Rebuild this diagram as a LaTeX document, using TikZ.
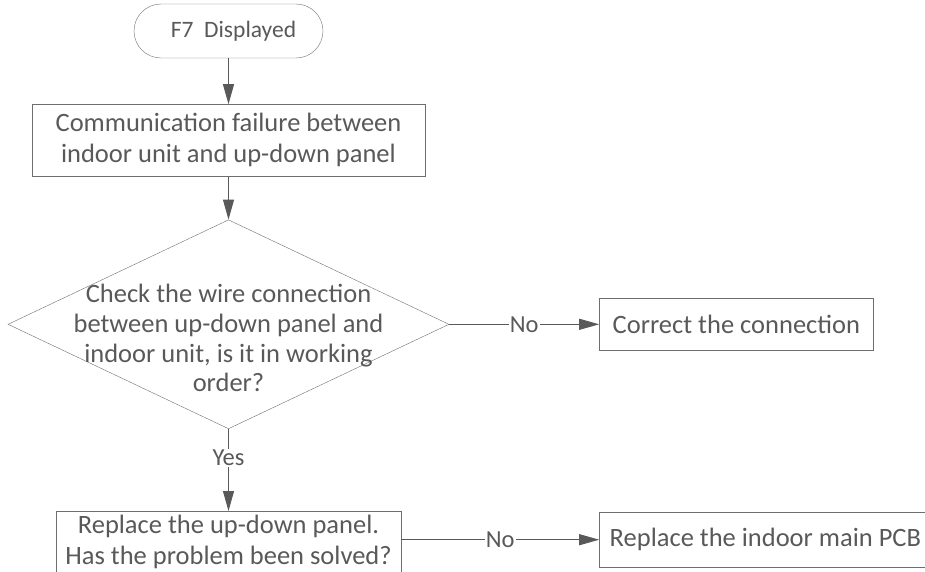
\documentclass[tikz,border=0pt]{standalone}
\usepackage{fontspec}
\setmainfont{Carlito}
\usepackage{tikz}
\usetikzlibrary{shapes.geometric, arrows.meta, positioning}
\definecolor{txtgray}{HTML}{595959}
\definecolor{edgegray}{HTML}{6E6E6E}

\begin{document}
\begin{tikzpicture}[x=1pt, y=1pt, font=\fontsize{26.5}{31}\selectfont, text=txtgray]
    % styles
    \tikzstyle{terminal} = [rectangle, draw=edgegray, rounded corners=27pt, minimum width=189pt, minimum height=54pt, font=\fontsize{23.5}{28}\selectfont]
    \tikzstyle{block} = [rectangle, draw=edgegray, align=center, inner sep=2pt]
    \tikzstyle{decision} = [diamond, draw=edgegray, inner sep=0pt, minimum width=441pt, minimum height=209pt]
    \tikzstyle{line} = [draw=txtgray, line width=1pt, -{Triangle[length=20pt, width=11pt]}]
    \tikzstyle{answer} = [fill=white, inner sep=1pt, font=\fontsize{24.5}{28}\selectfont]

    \useasboundingbox (0,0) rectangle (925,-571);

    % nodes
    \node [terminal] (start) at (228.5,-31) {\hspace{10pt}F7\ \ Displayed};
    \node [block, below=46pt of start, minimum width=393pt, minimum height=72pt] (fail)
        {Communication failure between\\indoor unit and up-down panel};
    \node [decision, below=43pt of fail] (check) {};
    \node [align=center, font=\fontsize{26.5}{29.7}\selectfont] (checktext) at ([yshift=-14pt]check.center)
        {Check the wire connection\\between up-down panel and\\indoor unit, is it in working\\order?};
    \node [block, right=150pt of check, minimum width=274pt, minimum height=52pt] (correct) {Correct the connection};
    \node [block, below=82pt of check, minimum width=345pt, minimum height=62pt] (replace)
        {Replace the up-down panel.\\Has the problem been solved?};
    \node [block, right=198pt of replace, yshift=2.5pt, minimum width=332pt, minimum height=55pt] (pcb)
        {Replace the indoor main PCB};

    % arrows
    \path [line] (start) -- (fail);
    \path [line] (fail) -- (check);
    \path [line] (check) -- node [answer] {No} (correct);
    \path [line] (check) -- node [answer, pos=0.35] {Yes} (replace);
    \path [line] (replace.east |- pcb.west) -- node [answer] {No} (pcb.west);
\end{tikzpicture}
\end{document}
